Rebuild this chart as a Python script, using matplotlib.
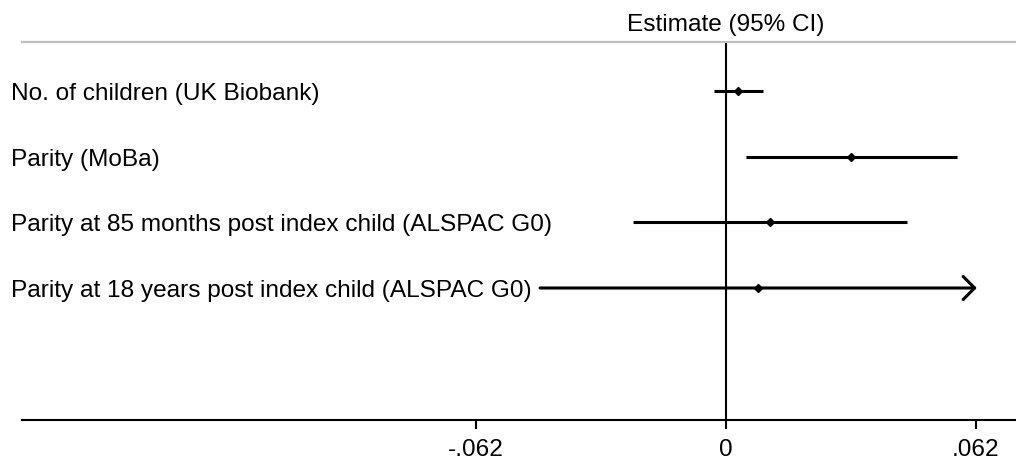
import matplotlib.pyplot as plt
from matplotlib.transforms import blended_transform_factory, offset_copy

plt.rcParams['font.family'] = ['Liberation Sans', 'DejaVu Sans']

# outcome labels, point estimates and 95% CI bounds
outcomes = [
    "No. of children (UK Biobank)",
    "Parity (MoBa)",
    "Parity at 85 months post index child (ALSPAC G0)",
    "Parity at 18 years post index child (ALSPAC G0)",
]
estimates = [0.0030, 0.0310, 0.0109, 0.0079]
lower = [-0.0030, 0.0050, -0.0231, -0.0461]
upper = [0.0092, 0.0573, 0.0449, 0.0622]
truncated = [False, False, False, True]  # upper bound runs past the axis

tick_vals = [-0.062, 0, 0.062]
tick_labels = ["-.062", "0", ".062"]

W, H = 1016, 461
FS = 17.6
fig = plt.figure(figsize=(W / 100, H / 100), dpi=100)
ax = fig.add_axes([22 / W, 41 / H, 994 / W, 378 / H])

ax.set_xlim(-0.17459, 0.07192)
ax.set_ylim(6.01, 0.254)

rows = list(range(1, len(outcomes) + 1))

ax.axvline(0, color='black', lw=1.5, zorder=1)

for y, est, lo, hi, cut in zip(rows, estimates, lower, upper, truncated):
    if cut:
        ax.annotate('', xy=(hi, y), xytext=(lo, y),
                    arrowprops=dict(arrowstyle='->, head_length=0.55, head_width=0.55',
                                    lw=2.2, color='black',
                                    shrinkA=0, shrinkB=0, mutation_scale=15))
    else:
        ax.plot([lo, hi], [y, y], color='black', lw=2.2, solid_capstyle='butt')
    ax.plot(est, y, marker='D', ms=4, color='black', zorder=3)

# row labels sit at the left edge of the figure
lab_tr = offset_copy(blended_transform_factory(fig.transFigure, ax.transData),
                     fig=fig, y=-3, units='dots')
for y, name in zip(rows, outcomes):
    ax.text(11 / W, y, name, transform=lab_tr, ha='left', va='center',
            fontsize=FS, clip_on=False)

ax.text(0, 1.029, "Estimate (95% CI)", transform=ax.get_xaxis_transform(),
        ha='center', va='baseline', fontsize=FS)

for side in ['left', 'right']:
    ax.spines[side].set_visible(False)
ax.spines['top'].set_color('#bebebe')
ax.spines['top'].set_linewidth(1.6)
ax.spines['bottom'].set_linewidth(1.5)

ax.set_yticks([])
ax.set_xticks(tick_vals)
ax.set_xticklabels(tick_labels, fontsize=FS)
ax.tick_params(axis='x', length=6.5, width=1.5, pad=7)

fig.savefig('out.png', dpi=100)
